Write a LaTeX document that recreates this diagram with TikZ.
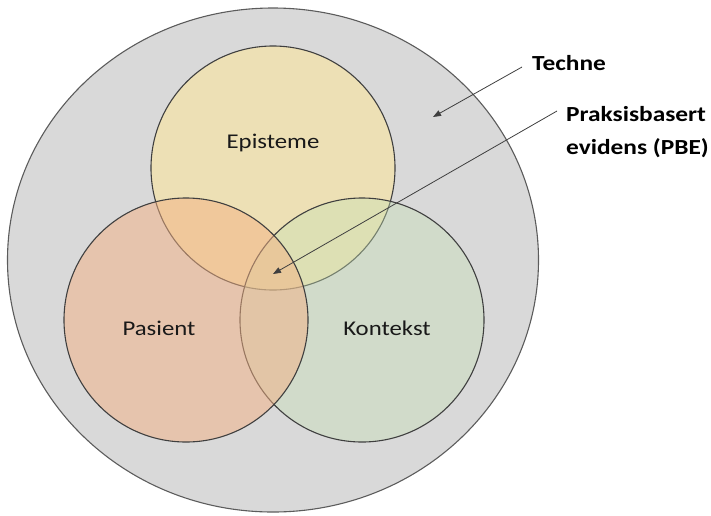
\documentclass[tikz,border=0pt]{standalone}
\usepackage{fontspec}
\setmainfont{Carlito}[FakeStretch=1.18]
\usetikzlibrary{arrows.meta,shapes.geometric}
\definecolor{technegray}{HTML}{D9D9D9}
\definecolor{epifill}{HTML}{FFE699}
\definecolor{pasfill}{HTML}{F4B183}
\definecolor{konfill}{HTML}{C5E0B4}
\definecolor{rim}{HTML}{3F3F3F}
\begin{document}
\begin{tikzpicture}[x=1pt,y=-1pt,
  set/.style={circle, minimum size=244pt, inner sep=0pt, outer sep=0pt,
    draw=rim, line width=1.1pt},
  setlabel/.style={font=\fontsize{21}{25}\selectfont, text=black!90, inner sep=0pt},
  callout/.style={font=\bfseries\fontsize{21.5}{33}\selectfont, align=left,
    anchor=west, inner sep=0pt},
  pointer/.style={draw=rim, line width=0.8pt, -{Triangle[length=8pt,width=6pt]}}]
\useasboundingbox (0,0) rectangle (711,515);

% outer field: Techne
\node[ellipse, minimum width=531pt, minimum height=504pt, inner sep=0pt,
  fill=technegray, draw=rim!85, line width=1.1pt] (techne) at (273,260) {};

% the three overlapping sets
\node[set, fill=epifill, fill opacity=0.55] (epi) at (273,168) {};
\node[set, fill=konfill, fill opacity=0.4] (kon) at (362,320) {};
\node[set, fill=pasfill, fill opacity=0.5] (pas) at (186,320) {};

% set names
\node[setlabel] (epitext) at (273,143) {Episteme};
\node[setlabel] (pastext) at (159,328) {Pasient};
\node[setlabel] (kontext) at (387,328) {Kontekst};

% callouts
\node[callout] (technetext) at (532,63) {Techne};
\node[callout] (pbetext) at (566,132) {Praksisbasert\\evidens (PBE)};

\coordinate (technestart) at (522,67);
\coordinate (technetip) at (433,117);
\coordinate (pbestart) at (557,111);
\coordinate (pbetip) at (273,274);
\draw[pointer] (technestart) -- (technetip);
\draw[pointer] (pbestart) -- (pbetip);
\end{tikzpicture}
\end{document}
